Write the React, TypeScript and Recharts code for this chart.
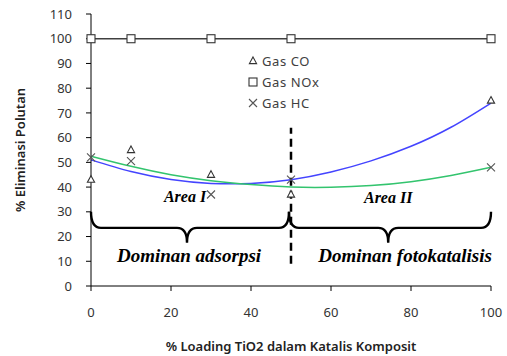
import React from "react";
import {
  ComposedChart,
  Line,
  XAxis,
  YAxis,
  ReferenceArea,
  ReferenceLine,
  ReferenceDot,
} from "recharts";

// ---- data ----
const loading = [0, 10, 30, 50, 100];
const gasCO = [43, 55, 45, 37, 75];
const gasNOx = [100, 100, 100, 100, 100];
const gasHC = [52, 50.5, 37, 43, 48];

const trendX = [0, 10, 20, 30, 40, 50, 60, 70, 80, 90, 100];
const trendCO = [51, 46.3, 43.1, 41.5, 41.5, 43, 46.1, 50.6, 56.5, 64.2, 74];
const trendHC = [52.5, 48.4, 45.0, 42.6, 41.0, 40.0, 39.9, 40.6, 42.2, 44.7, 48];

const xTicks = [0, 20, 40, 60, 80, 100];
const yTicks = [0, 10, 20, 30, 40, 50, 60, 70, 80, 90, 100, 110];

const seriesNames = ["Gas CO", "Gas NOx", "Gas HC"];

const boundaryX = 50;
const boundarySpan = [9, 64];

const braceRanges = [
  { x1: 0, x2: 49.5, y1: 17.5, y2: 30, tip: 24 },
  { x1: 49.5, x2: 100, y1: 17.5, y2: 30, tip: 74.3 },
];

const areaLabels = [
  { x: 23.5, y: 34, text: "Area I" },
  { x: 74.3, y: 33.4, text: "Area II" },
];
const domLabels = [
  { x: 24.5, y: 9.7, text: "Dominan adsorpsi" },
  { x: 78.5, y: 9.7, text: "Dominan fotokatalisis" },
];

const toPts = (xs: number[], ys: number[]) => xs.map((x, i) => ({ x, y: ys[i] }));
const coData = toPts(loading, gasCO);
const noxData = toPts(loading, gasNOx);
const hcData = toPts(loading, gasHC);
const coTrendData = toPts(trendX, trendCO);
const hcTrendData = toPts(trendX, trendHC);

const MARK = "#333333";
const SANS = "'Noto Sans', 'Open Sans', sans-serif";
const SERIF = "'Liberation Serif', 'DejaVu Serif', serif";

const Tri = ({ cx, cy }: any) =>
  cx == null ? null : (
    <path
      d={`M${cx},${cy - 4} L${cx + 3.6},${cy + 2.6} L${cx - 3.6},${cy + 2.6} Z`}
      fill="#fff"
      stroke={MARK}
      strokeWidth={1.1}
    />
  );
const Sq = ({ cx, cy }: any) =>
  cx == null ? null : (
    <rect x={cx - 4} y={cy - 4} width={8} height={8} fill="#fff" stroke={MARK} strokeWidth={1.1} />
  );
const Cross = ({ cx, cy }: any) =>
  cx == null ? null : (
    <path
      d={`M${cx - 4},${cy - 4} L${cx + 4},${cy + 4} M${cx + 4},${cy - 4} L${cx - 4},${cy + 4}`}
      stroke="#555"
      strokeWidth={1.1}
      fill="none"
    />
  );

const Brace = (tip: number, x1: number, x2: number) => (props: any) => {
  const { x, y, width, height } = props;
  const left = x;
  const right = x + width;
  const mid = x + ((tip - x1) / (x2 - x1)) * width;
  const top = y;
  const hy = y + height * 0.52;
  const bot = y + height;
  const r = 10;
  const d = `M${left},${top} Q${left},${hy} ${left + r},${hy} L${mid - r},${hy} Q${mid},${hy} ${mid},${bot} Q${mid},${hy} ${mid + r},${hy} L${right - r},${hy} Q${right},${hy} ${right},${top}`;
  return <path d={d} fill="none" stroke="#000" strokeWidth={2.4} />;
};

const TextAt = (text: string, size: number) => (props: any) => (
  <text
    x={props.cx}
    y={props.cy}
    textAnchor="middle"
    fontFamily={SERIF}
    fontWeight="bold"
    fontStyle="italic"
    fontSize={size}
    fill="#000"
  >
    {text}
  </text>
);

const LegendBox = () => {
  const icons = [Tri, Sq, Cross];
  return (
    <div
      style={{
        position: "absolute",
        left: 247,
        top: 50,
        fontFamily: SANS,
        fontSize: 13,
        color: "#404040",
      }}
    >
      {seriesNames.map((n, i) => {
        const Icon = icons[i];
        return (
          <div key={n} style={{ display: "flex", alignItems: "center", height: 21 }}>
            <svg width={12} height={12} style={{ marginRight: 3 }}>
              <Icon cx={6} cy={6} />
            </svg>
            <span style={{ letterSpacing: 0.6 }}>{n}</span>
          </div>
        );
      })}
    </div>
  );
};

const YLabel = (props: any) => {
  const vb = props.viewBox;
  const cx = 20;
  const cy = vb.y + vb.height / 2;
  return (
    <text
      x={cx}
      y={cy}
      transform={`rotate(-90, ${cx}, ${cy})`}
      textAnchor="middle"
      dominantBaseline="central"
      fontFamily={SANS}
      fontWeight={600}
      fontSize={13}
      fill="#222"
    >
      % Eliminasi Polutan
    </text>
  );
};

const XLabel = (props: any) => {
  const vb = props.viewBox;
  return (
    <text
      x={vb.x + vb.width / 2}
      y={351}
      textAnchor="middle"
      fontFamily={SANS}
      fontWeight={600}
      fontSize={13}
      fill="#222"
    >
      % Loading TiO2 dalam Katalis Komposit
    </text>
  );
};

export default function App() {
  return (
    <div style={{ position: "absolute", left: 0, top: 0, width: 507, height: 356, background: "#fff" }}>
      <ComposedChart width={507} height={356} margin={{ top: 14, right: 16, left: 0, bottom: 0 }}>
        <XAxis
          type="number"
          dataKey="x"
          domain={[0, 100]}
          ticks={xTicks}
          height={70}
          tickSize={5}
          tickMargin={17}
          stroke="#000"
          tick={{ fill: "#333", fontSize: 13, fontFamily: SANS }}
          label={<XLabel />}
        />
        <YAxis
          type="number"
          domain={[0, 110]}
          ticks={yTicks}
          width={91}
          tickSize={5}
          tickMargin={14}
          stroke="#000"
          tick={{ fill: "#333", fontSize: 13, fontFamily: SANS }}
          label={<YLabel />}
          interval={0}
        />
        {braceRanges.map((b, i) => (
          <ReferenceArea
            key={"b" + i}
            x1={b.x1}
            x2={b.x2}
            y1={b.y1}
            y2={b.y2}
            shape={Brace(b.tip, b.x1, b.x2)}
          />
        ))}
        <ReferenceLine
          segment={[
            { x: boundaryX, y: boundarySpan[0] },
            { x: boundaryX, y: boundarySpan[1] },
          ]}
          stroke="#000"
          strokeWidth={2.5}
          strokeDasharray="8 5"
        />
        {areaLabels.map((l) => (
          <ReferenceDot key={l.text} x={l.x} y={l.y} r={0} shape={TextAt(l.text, 16)} />
        ))}
        {domLabels.map((l) => (
          <ReferenceDot key={l.text} x={l.x} y={l.y} r={0} shape={TextAt(l.text, 19)} />
        ))}
        <Line
          data={coTrendData}
          dataKey="y"
          type="natural"
          stroke="#4444ff"
          strokeWidth={1.5}
          dot={false}
          isAnimationActive={false}
          legendType="none"
        />
        <Line
          data={hcTrendData}
          dataKey="y"
          type="natural"
          stroke="#33c46e"
          strokeWidth={1.5}
          dot={false}
          isAnimationActive={false}
          legendType="none"
        />
        <Line
          data={noxData}
          dataKey="y"
          name={seriesNames[1]}
          stroke="#404040"
          strokeWidth={1.5}
          dot={(p: any) => <Sq key={"s" + p.index} cx={p.cx} cy={p.cy} />}
          isAnimationActive={false}
        />
        <Line
          data={coData}
          dataKey="y"
          name={seriesNames[0]}
          stroke="none"
          dot={(p: any) => <Tri key={"t" + p.index} cx={p.cx} cy={p.cy} />}
          isAnimationActive={false}
        />
        <Line
          data={hcData}
          dataKey="y"
          name={seriesNames[2]}
          stroke="none"
          dot={(p: any) => <Cross key={"c" + p.index} cx={p.cx} cy={p.cy} />}
          isAnimationActive={false}
        />
      </ComposedChart>
      <LegendBox />
    </div>
  );
}
